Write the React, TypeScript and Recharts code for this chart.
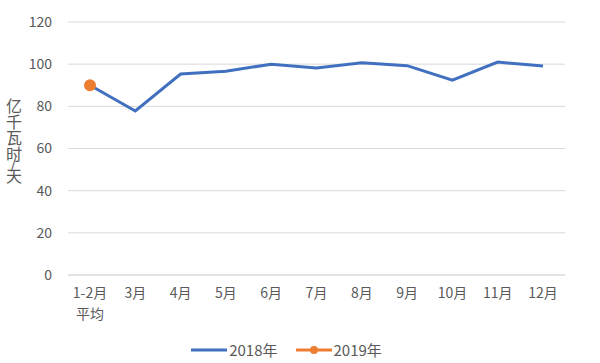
import React from 'react';
import { LineChart, Line, XAxis, YAxis, CartesianGrid, Legend } from 'recharts';

const months = ['1-2月\n平均', '3月', '4月', '5月', '6月', '7月', '8月', '9月', '10月', '11月', '12月'];
const values2018 = [90, 77.8, 95.3, 96.6, 100, 98.2, 100.7, 99.3, 92.4, 101, 99.1];
const values2019: (number | null)[] = [90, null, null, null, null, null, null, null, null, null, null];
const yTicks = [0, 20, 40, 60, 80, 100, 120];

const BLUE = '#4170c0';
const ORANGE = '#ed7d31';
const FONT = '"Noto Sans CJK SC", "Noto Sans", sans-serif';

const data = months.map((m, i) => ({ month: m, y2018: values2018[i], y2019: values2019[i] }));

const MonthTick = (props: any) => {
    const { x, y, payload } = props;
    const lines = String(payload.value).split('\n');
    return (
        <text x={x} y={y + 15} textAnchor="middle" fill="#595959" fontSize={14} fontFamily={FONT}>
            {lines.map((l, i) => (
                <tspan key={i} x={x} dy={i === 0 ? 0 : 21}>{l}</tspan>
            ))}
        </text>
    );
};

const LegendBox = () => (
    <div style={{ display: 'flex', justifyContent: 'center', alignItems: 'center', fontFamily: FONT, fontSize: 15, color: '#595959', paddingLeft: 6, paddingTop: 14 }}>
        <svg width={40} height={10}>
            <line x1={2} y1={5} x2={38} y2={5} stroke={BLUE} strokeWidth={3} />
        </svg>
        <span style={{ marginRight: 16 }}>2018年</span>
        <svg width={40} height={10}>
            <line x1={2} y1={5} x2={38} y2={5} stroke={ORANGE} strokeWidth={3} />
            <circle cx={20} cy={5} r={4} fill={ORANGE} />
        </svg>
        <span>2019年</span>
    </div>
);

export default function App() {
    return (
        <div style={{ position: 'absolute', left: 0, top: 0, width: 600, height: 363, background: '#fff' }}>
            <div style={{ position: 'absolute', left: 5, top: 98, writingMode: 'vertical-rl', fontFamily: FONT, fontSize: 16, color: '#595959', lineHeight: '17px' }}>
                亿千瓦时<span style={{ display: 'inline-block', transform: 'rotate(90deg)' }}>/</span>天
            </div>
            <LineChart width={600} height={363} data={data} margin={{ top: 22, right: 35, left: 0, bottom: 0 }}>
                <CartesianGrid vertical={false} stroke="#d9d9d9" />
                <XAxis dataKey="month" interval={0} axisLine={{ stroke: '#d9d9d9' }} tickLine={false} height={50}
                    padding={{ left: 22, right: 22 }} tick={<MonthTick />} />
                <YAxis domain={[0, 120]} ticks={yTicks} width={68} axisLine={false} tickLine={false}
                    tick={{ fill: '#595959', fontSize: 14, fontFamily: FONT }} tickMargin={10} />
                <Legend verticalAlign="bottom" height={38} content={<LegendBox />} />
                <Line dataKey="y2018" stroke={BLUE} strokeWidth={3} dot={false} isAnimationActive={false} />
                <Line dataKey="y2019" stroke={ORANGE} strokeWidth={3} dot={{ r: 4.5, fill: ORANGE, stroke: ORANGE }} isAnimationActive={false} />
            </LineChart>
        </div>
    );
}
